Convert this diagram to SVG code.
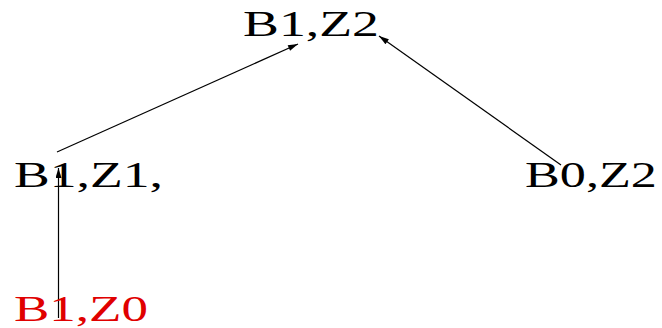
<svg xmlns="http://www.w3.org/2000/svg" width="662" height="328" viewBox="0 0 662 328">
<defs>
<marker id="ah" viewBox="0 0 10 6" refX="10" refY="3" markerWidth="14" markerHeight="6" markerUnits="userSpaceOnUse" orient="auto">
<path d="M0,0 L10,3 L0,6 z" fill="#000"/>
</marker>
</defs>
<style>
text{font-family:"Liberation Serif","Times New Roman",serif;font-size:36px;fill:#000}
.red{fill:#e00000}
.c{stroke:#000;stroke-width:1.2;fill:none}
</style>
<rect width="662" height="328" fill="#fff"/>
<g id="connectors">
<line class="c" x1="57" y1="152" x2="298" y2="44" marker-end="url(#ah)"/>
<line class="c" x1="561" y1="165" x2="379" y2="36" marker-end="url(#ah)"/>
<line class="c" x1="58.5" y1="318" x2="58.5" y2="168" marker-end="url(#ah)"/>
</g>
<g id="n_B1Z2"><text x="243" y="36" textLength="136" lengthAdjust="spacingAndGlyphs">B1,Z2</text></g>
<g id="n_B1Z1"><text x="14" y="187" textLength="149" lengthAdjust="spacingAndGlyphs">B1,Z1,</text></g>
<g id="n_B0Z2"><text x="525" y="187" textLength="132" lengthAdjust="spacingAndGlyphs">B0,Z2</text></g>
<g id="n_B1Z0"><text class="red" x="14" y="321" textLength="134" lengthAdjust="spacingAndGlyphs">B1,Z0</text></g>
</svg>
